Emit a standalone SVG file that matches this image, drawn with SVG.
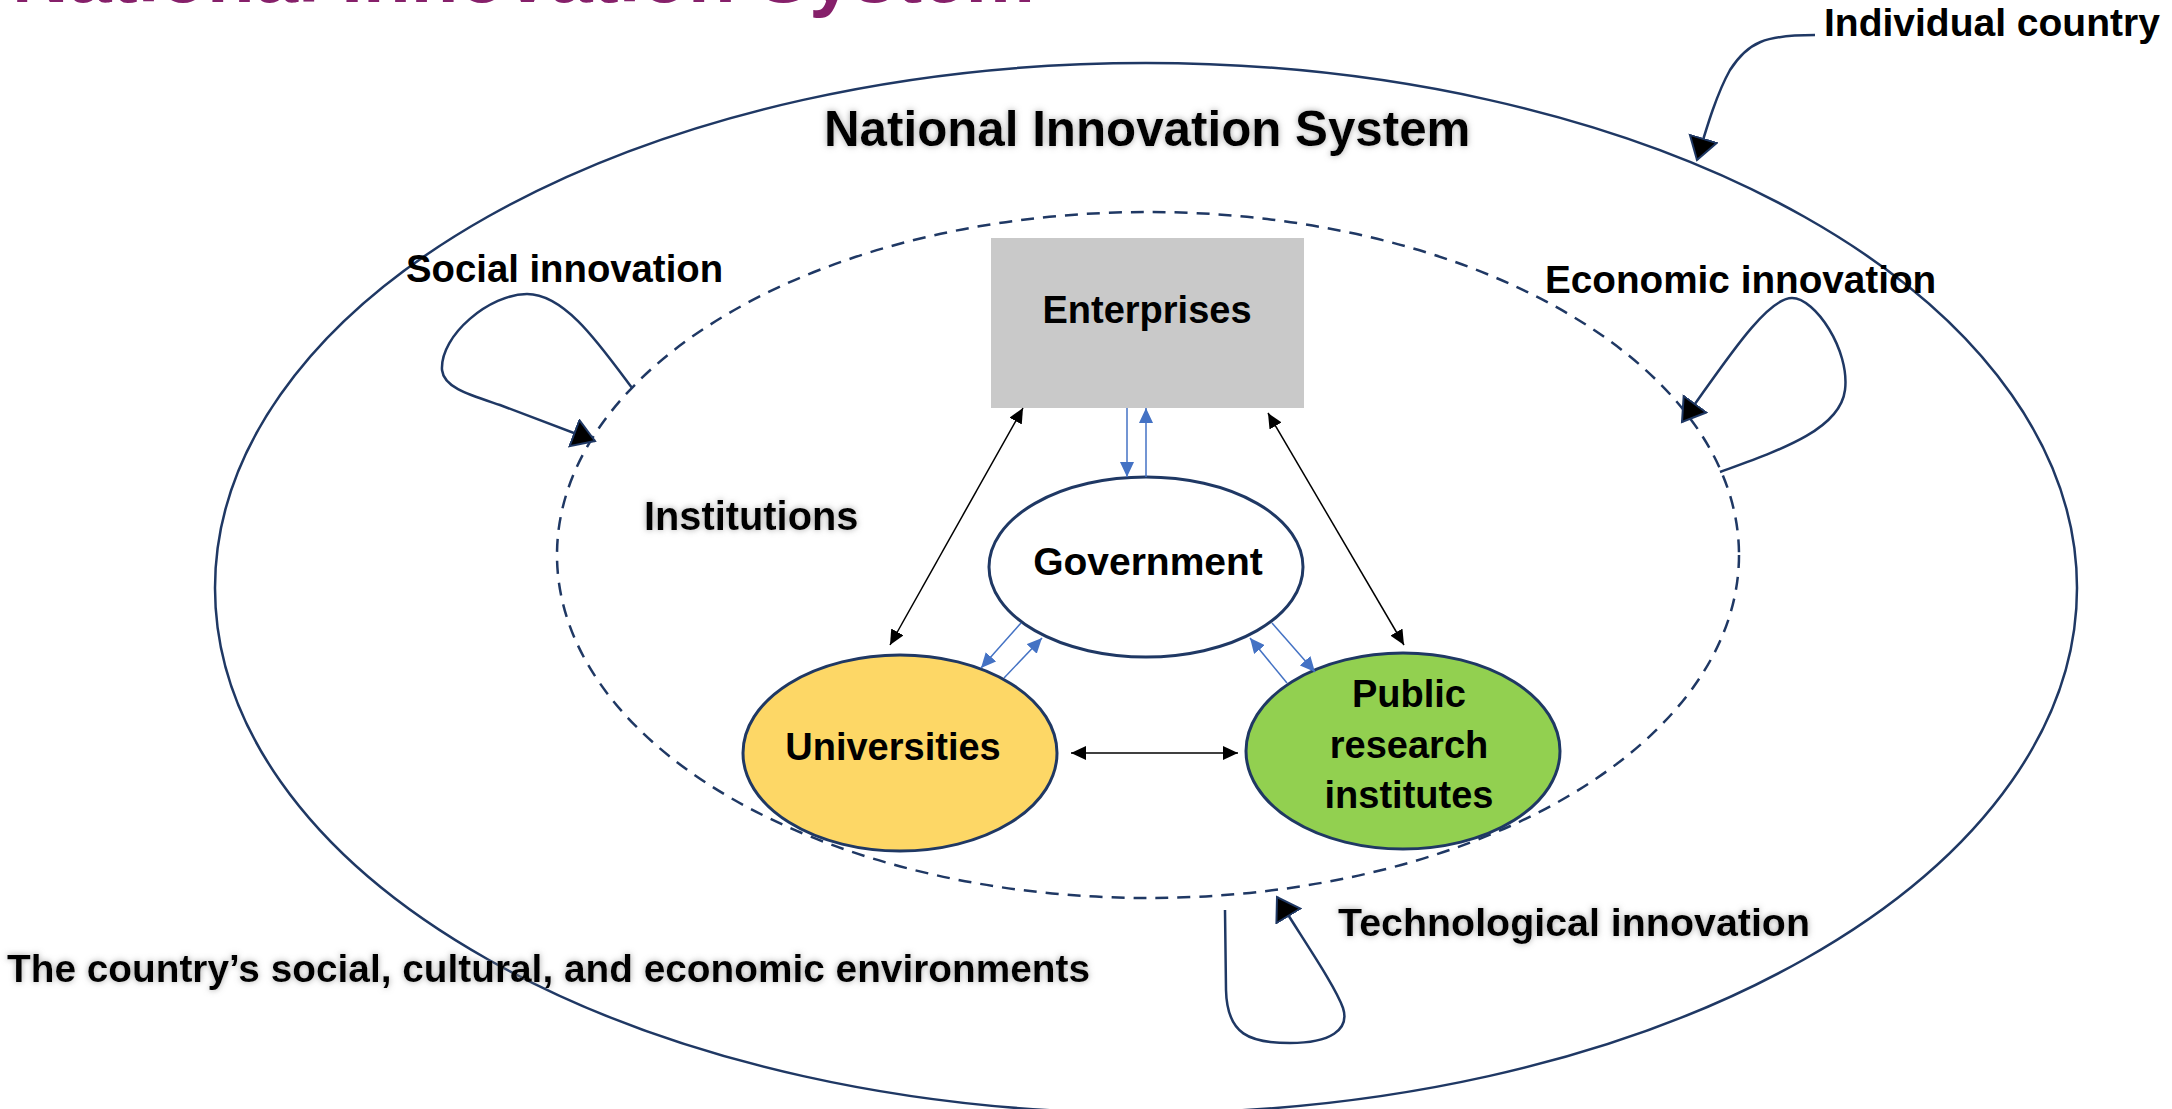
<svg xmlns="http://www.w3.org/2000/svg" width="2172" height="1109" viewBox="0 0 2172 1109">
  <style>
    text { font-family: "Liberation Sans", Arial, sans-serif; font-weight: bold; fill: #000; }
    .lbl { font-size: 38px; }
    .mid { text-anchor: middle; }
    .halo { filter: url(#glow); }
    .ring { fill: none; stroke: #1F3864; stroke-width: 2.5; }
    .dash { fill: none; stroke: #1F3864; stroke-width: 2.5; stroke-dasharray: 13 9; }
    .node { stroke: #1F3864; stroke-width: 3; }
    .loop { fill: none; stroke: #1F3864; stroke-width: 2.5; marker-end: url(#bigHead); }
    .link { fill: none; stroke: #000; stroke-width: 1.5; marker-start: url(#blkHead); marker-end: url(#blkHead); }
    .flow { fill: none; stroke: #4472C4; stroke-width: 1.5; marker-end: url(#blueHead); }
  </style>
  <defs>
    <filter id="glow" x="-5%" y="-40%" width="110%" height="180%">
      <feDropShadow dx="0" dy="0" stdDeviation="3" flood-color="#7f7f7f" flood-opacity="0.7"/>
    </filter>
    <marker id="bigHead" markerUnits="userSpaceOnUse" markerWidth="26" markerHeight="32" refX="23" refY="15" orient="auto">
      <path d="M1,1 L23,15 L1,29 z" fill="#000" stroke="#1F3864" stroke-width="2"/>
    </marker>
    <marker id="blkHead" markerUnits="userSpaceOnUse" markerWidth="16" markerHeight="14" refX="15" refY="7" orient="auto-start-reverse">
      <path d="M0,0 L15,7 L0,14 z" fill="#000"/>
    </marker>
    <marker id="blueHead" markerUnits="userSpaceOnUse" markerWidth="16" markerHeight="14" refX="15" refY="7" orient="auto">
      <path d="M0,0 L15,7 L0,14 z" fill="#4472C4"/>
    </marker>
  </defs>

  <rect width="2172" height="1109" fill="#fff"/>

  <!-- slide heading, running off the top edge -->
  <text x="12" y="2" style="font-size:78px;fill:#86206A">National Innovation System</text>

  <!-- country boundary and the innovation system inside it -->
  <g id="country">
    <ellipse class="ring" cx="1146" cy="588" rx="931" ry="525"/>
    <text class="lbl" x="1824" y="36" style="font-size:39px">Individual country</text>
    <text class="lbl halo" x="7" y="982" style="font-size:38.8px">The country’s social, cultural, and economic environments</text>
  </g>
  <g id="system">
    <ellipse class="dash" cx="1148" cy="555" rx="591" ry="343"/>
    <text x="824" y="146" style="font-size:49.3px" class="halo">National Innovation System</text>
    <text class="lbl halo" x="644" y="530" style="font-size:39.8px">Institutions</text>
  </g>

  <g id="social-innovation">
    <text class="lbl" x="406" y="282" style="font-size:38.3px">Social innovation</text>
  </g>
  <g id="economic-innovation">
    <text class="lbl" x="1545" y="293" style="font-size:38.7px">Economic innovation</text>
  </g>
  <g id="technological-innovation">
    <text class="lbl halo" x="1338" y="936" style="font-size:39.4px">Technological innovation</text>
  </g>

  <g id="enterprises">
    <rect x="991" y="238" width="313" height="170" fill="#C9C9C9"/>
    <text class="lbl mid" x="1147" y="323">Enterprises</text>
  </g>
  <g id="government">
    <ellipse class="node" cx="1146" cy="567" rx="157" ry="90" fill="#fff"/>
    <text class="lbl mid" x="1148" y="575" style="font-size:39px">Government</text>
  </g>
  <g id="universities">
    <ellipse class="node" cx="900" cy="753" rx="157" ry="98" fill="#FDD766"/>
    <text class="lbl mid" x="893" y="760">Universities</text>
  </g>
  <g id="public-research-institutes">
    <ellipse class="node" cx="1403" cy="751" rx="157" ry="98" fill="#92D050"/>
    <text class="lbl mid" x="1409" y="707">Public</text>
    <text class="lbl mid" x="1409" y="758">research</text>
    <text class="lbl mid" x="1409" y="808">institutes</text>
  </g>

  <g id="connectors">
    <!-- feedback loops on the system boundary -->
    <path class="loop" d="M1815,35 C1765,35 1748,42 1730,70 C1716,95 1706,130 1697,160"/>
    <path class="loop" d="M632,388 C600,345 565,294 527,294 C490,294 440,335 442,370 C444,388 470,395 500,405 L595,441"/>
    <path class="loop" d="M1720,472 C1780,450 1840,430 1845,390 C1850,350 1815,298 1792,298 C1765,298 1720,370 1682,422"/>
    <path class="loop" d="M1225,910 L1226,990 C1227,1035 1250,1043 1290,1043 C1330,1043 1350,1030 1343,1008 C1335,985 1300,935 1277,897"/>

    <!-- two-way links between the actors -->
    <path class="link" d="M1023,408 L890,645"/>
    <path class="link" d="M1268,413 L1404,645"/>
    <path class="link" d="M1071,753 L1238,753"/>

    <!-- flows to and from government -->
    <path class="flow" d="M1127,408 L1127,477"/>
    <path class="flow" d="M1146,477 L1146,408"/>
    <path class="flow" d="M1021,623 L981,668"/>
    <path class="flow" d="M1004,678 L1042,638"/>
    <path class="flow" d="M1272,623 L1315,672"/>
    <path class="flow" d="M1287,683 L1250,638"/>
  </g>
</svg>
